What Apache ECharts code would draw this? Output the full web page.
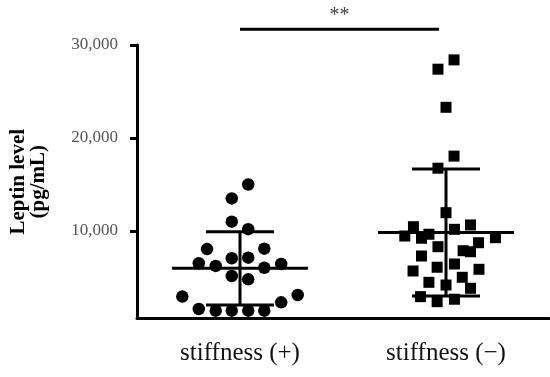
<!DOCTYPE html>
<html><head><meta charset="utf-8">
<script src="https://cdn.jsdelivr.net/npm/echarts@6/dist/echarts.min.js"></script>
<style>html,body{margin:0;padding:0;background:#fff}#c{width:550px;height:377px}</style>
</head><body><div id="c"></div>
<script>
// ---- data ----
const categories = ['stiffness (+)', 'stiffness (\u2212)'];
const yTickValues = [10000, 20000, 30000];
const yName = 'Leptin level\n(pg/mL)';

// stiffness (+): leptin values (pg/mL) and their swarm offsets (category units)
const posValues  = [15000, 13500, 11000, 10200, 8050, 8100, 7070, 7130, 6530, 6240, 6050, 6450, 5160, 4800, 2950, 3120, 2330, 1610, 1430, 1430, 1430, 1430];
const posOffsets = [0.04, -0.04, -0.04, 0.04, -0.16, 0.118, -0.04, 0.04, -0.2, -0.118, 0.118, 0.2, -0.04, 0.04, -0.28, 0.28, 0.2, -0.2, -0.118, -0.04, 0.04, 0.118];

// stiffness (-)
const negValues  = [28400, 27400, 23300, 18050, 16750, 11970, 10460, 10650, 10180, 9460, 9650, 9220, 9280, 8740, 8310, 7880, 7770, 7310, 5700, 6100, 6450, 5880, 4480, 4190, 5020, 3840, 2940, 2400, 2660];
const negOffsets = [0.039, -0.039, 0, 0.039, -0.039, 0, -0.158, 0.119, 0.041, -0.2, -0.083, -0.119, 0.24, 0.158, -0.039, 0.083, 0.119, -0.119, -0.16, -0.043, 0.041, 0.16, -0.083, 0, 0.079, 0.119, -0.124, -0.043, 0.041];

// mean and SD per group
const groupMeans = [5990, 9840];
const groupSDs   = [3940, 6830];

// significance bracket
const sigText = '**';
const sigFrom = 1, sigTo = 1.966, sigLevel = 31700;

// ---- build ----
const posData = posValues.map((v, i) => [1 + posOffsets[i], v]);
const negData = negValues.map((v, i) => [2 + negOffsets[i], v]);
const statData = groupMeans.map((m, i) => [i + 1, m, groupSDs[i]]);

const serif = 'Liberation Serif';
const chart = echarts.init(document.getElementById('c'), null, {renderer: 'canvas'});
chart.setOption({
  animation: false,
  backgroundColor: '#fff',
  grid: {left: 137, right: 1, top: 45, bottom: 58.6, containLabel: false, outerBoundsMode: 'none'},
  xAxis: [{
    type: 'category',
    data: categories,
    boundaryGap: true,
    axisLine: {lineStyle: {color: '#000', width: 3}},
    axisTick: {alignWithLabel: true, length: 6, lineStyle: {color: '#000', width: 3}},
    axisLabel: {color: '#111', fontFamily: serif, fontSize: 25, margin: 23}
  }, {
    type: 'value', min: 0.5, max: 2.5, show: false
  }],
  yAxis: {
    type: 'value', min: 600, max: 30000,
    name: yName, nameLocation: 'middle', nameGap: 89, nameRotate: 90, nameMoveOverlap: false,
    nameTextStyle: {fontFamily: serif, fontWeight: 'bold', fontSize: 21, color: '#000', lineHeight: 19.5},
    axisLine: {lineStyle: {color: '#000', width: 3}},
    axisTick: {customValues: yTickValues, length: 7, lineStyle: {color: '#000', width: 3}},
    axisLabel: {customValues: yTickValues, color: '#555', fontFamily: serif, fontSize: 17, margin: 19,
      formatter: v => v.toLocaleString('en-US')},
    splitLine: {show: false}
  },
  series: [{
    type: 'scatter', xAxisIndex: 1, data: posData,
    symbol: 'circle', symbolSize: 12.5, itemStyle: {color: '#000', opacity: 1}
  }, {
    type: 'scatter', xAxisIndex: 1, data: negData,
    symbol: 'rect', symbolSize: 11, itemStyle: {color: '#000', opacity: 1}
  }, {
    type: 'custom', xAxisIndex: 1, data: statData, clip: false, z: 5,
    renderItem: (params, api) => {
      const x = api.value(0), m = api.value(1), sd = api.value(2);
      const c = api.coord([x, m]);
      const t = api.coord([x, m + sd]);
      const b = api.coord([x, m - sd]);
      const wm = api.size([0.33, 0])[0];
      const ws = api.size([0.165, 0])[0];
      const st = {stroke: '#000', lineWidth: 3};
      return {type: 'group', children: [
        {type: 'line', shape: {x1: c[0] - wm, y1: c[1], x2: c[0] + wm, y2: c[1]}, style: st},
        {type: 'line', shape: {x1: c[0], y1: t[1], x2: c[0], y2: b[1]}, style: st},
        {type: 'line', shape: {x1: c[0] - ws, y1: t[1], x2: c[0] + ws, y2: t[1]}, style: st},
        {type: 'line', shape: {x1: c[0] - ws, y1: b[1], x2: c[0] + ws, y2: b[1]}, style: st}
      ]};
    }
  }, {
    type: 'custom', xAxisIndex: 1, data: [[sigFrom, sigTo, sigLevel]], clip: false, z: 5,
    renderItem: (params, api) => {
      const a = api.coord([api.value(0), api.value(2)]);
      const b = api.coord([api.value(1), api.value(2)]);
      return {type: 'group', children: [
        {type: 'line', shape: {x1: a[0], y1: a[1], x2: b[0], y2: b[1]}, style: {stroke: '#000', lineWidth: 3}},
        {type: 'text', style: {text: sigText, x: (a[0] + b[0]) / 2, y: a[1] - 13, align: 'center', verticalAlign: 'middle',
          fill: '#444', font: '20px "Liberation Serif"'}}
      ]};
    }
  }]
});
</script>
</body></html>
